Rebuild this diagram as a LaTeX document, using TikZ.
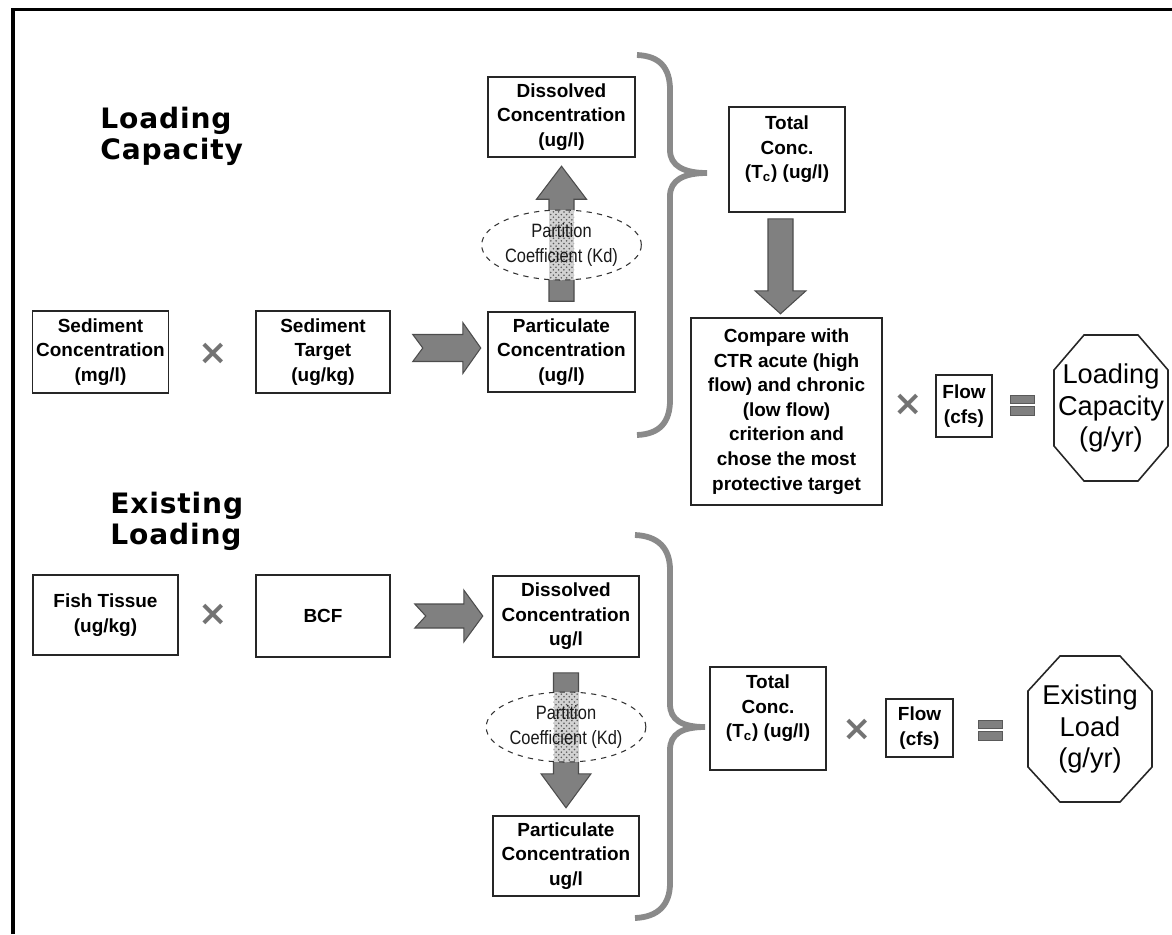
\documentclass[tikz,border=0pt]{standalone}
\usepackage{fontspec}
\setmainfont{Liberation Sans}
\newfontfamily\titlefont[LetterSpace=3]{DejaVu Sans}
\newfontfamily\narrowfont[FakeStretch=0.85]{Liberation Sans}
\usetikzlibrary{shapes.geometric,patterns,calc}

\definecolor{arrowgray}{HTML}{808080}
\definecolor{bracegray}{HTML}{8A8A8A}

\tikzset{
  box/.style={draw=black!85, line width=0.9pt, fill=white, align=center, inner sep=2pt,
    font=\fontsize{10.8}{14}\selectfont\bfseries},
  title/.style={anchor=west, align=left, inner sep=0pt,
    font=\titlefont\fontsize{16}{17.6}\selectfont\bfseries},
  timessign/.style={inner sep=0pt, text=black!55,
    font=\titlefont\fontsize{20}{20}\selectfont\bfseries},
  eqsign/.style={minimum width=0.52cm, minimum height=0.44cm, inner sep=0pt,
    path picture={
      \filldraw[fill=arrowgray, draw=black!65, line width=0.5pt]
        ($(path picture bounding box.center)+(-12,-10)$) rectangle ($(path picture bounding box.center)+(12,-1.5)$)
        ($(path picture bounding box.center)+(-12,1.5)$) rectangle ($(path picture bounding box.center)+(12,10)$);
    }},
  kdellipse/.style={ellipse, draw=black!80, dashed, line width=0.6pt, fill=white,
    minimum width=3.12cm, minimum height=1.4cm, inner sep=0pt, align=center,
    text=black!90, font=\narrowfont\fontsize{11}{14.2}\selectfont,
    path picture={
      \fill[gray!35] ($(path picture bounding box.center)+(-12.5,-40)$) rectangle ($(path picture bounding box.center)+(12.5,40)$);
      \fill[pattern=crosshatch dots, pattern color=gray!70!black]
        ($(path picture bounding box.center)+(-12.5,-40)$) rectangle ($(path picture bounding box.center)+(12.5,40)$);
    }},
  blockarrow/.style={fill=arrowgray, draw=black!70, line width=0.6pt, line join=miter},
  bracket/.style={draw=bracegray, line width=3.3pt},
  octo/.style={draw=black!85, line width=0.9pt},
  octotext/.style={align=center, inner sep=0pt, font=\fontsize{15.5}{18}\selectfont}
}

\begin{document}
\begin{tikzpicture}[x=0.02cm,y=-0.02cm]
\useasboundingbox (0,0) rectangle (1172,934);

% frame
\draw[line width=2pt] (13,934) -- (13,9.5) -- (1172,9.5);

% titles
\node[title] (ttlcap) at (100,136.5) {Loading\\Capacity};
\node[title] (ttlexist) at (110,521.5) {Existing\\Loading};

% ---- Loading capacity ----
\node[box, minimum width=2.70cm, minimum height=1.64cm] (sedconc) at (100.5,352) {Sediment\\Concentration\\(mg/l)};
\node[timessign] (x1) at (213,354) {×};
\node[box, minimum width=2.68cm, minimum height=1.64cm] (sedtgt) at (323,352) {Sediment\\Target\\(ug/kg)};
\node[box, minimum width=2.94cm, minimum height=1.60cm] (partc1) at (561.5,352) {Particulate\\Concentration\\(ug/l)};
\node[box, minimum width=2.94cm, minimum height=1.60cm] (dissc1) at (561.5,117) {Dissolved\\Concentration\\(ug/l)};

% target -> particulate
\draw[blockarrow] ($(sedtgt.east)+(32,-4)$) -- ++(-10,-13.5) -- ++(50,0) -- ++(0,-12)
  -- ++(18,25.5) -- ++(-18,25.5) -- ++(0,-12) -- ++(-50,0) -- cycle;

% particulate -> dissolved
\draw[blockarrow] ($(partc1.north)+(-12.5,-10)$) -- ++(0,-102) -- ++(-12.5,0) -- ++(25,-33)
  -- ++(25,33) -- ++(-12.5,0) -- ++(0,102) -- cycle;
\node[kdellipse] (kd1) at (561.5,245) {Partition\\Coefficient (Kd)};

% brace
\draw[bracket] (637,55) .. controls (660,56) and (670,68) .. (670,90) -- (670,150)
  .. controls (670,166) and (684,173) .. (707,173)
  .. controls (684,173) and (670,180) .. (670,196) -- (670,400)
  .. controls (670,422) and (660,434) .. (637,435);

\node[box, minimum width=2.32cm, minimum height=2.10cm] (totc1) at (787,159.5) {Total\\Conc.\\(T\textsubscript{c}) (ug/l)\\\mbox{}};
\node[box, minimum width=3.82cm, minimum height=3.74cm] (compare) at (786.5,411.5)
  {Compare with\\CTR acute (high\\flow) and chronic\\(low flow)\\criterion and\\chose the most\\protective target};

% total -> compare
\draw[blockarrow] ($(totc1.south)+(-19,6)$) -- ++(0,72) -- ++(-13,0) -- ++(25.5,23)
  -- ++(25.5,-23) -- ++(-13,0) -- ++(0,-72) -- cycle;

\node[timessign] (x2) at (908,405) {×};
\node[box, minimum width=1.12cm, minimum height=1.24cm] (flow1) at (964,406) {Flow\\(cfs)};
\node[eqsign] (eq1) at (1022,405) {};
\node[octotext] (lcap) at (1111,408) {Loading\\Capacity\\(g/yr)};
\draw[octo] ($(lcap)+(-27,-73)$) -- ++(54,0) -- ++(30,35) -- ++(0,76) -- ++(-30,35)
  -- ++(-54,0) -- ++(-30,-35) -- ++(0,-76) -- cycle;

% ---- Existing loading ----
\node[box, minimum width=2.90cm, minimum height=1.60cm] (fish) at (105.5,615) {Fish Tissue\\(ug/kg)};
\node[timessign] (x3) at (213,615) {×};
\node[box, minimum width=2.68cm, minimum height=1.64cm] (bcf) at (323,616) {BCF};
\node[box, minimum width=2.92cm, minimum height=1.62cm] (dissc2) at (566,616.5) {Dissolved\\Concentration\\ug/l};
\node[box, minimum width=2.92cm, minimum height=1.60cm] (partc2) at (566,856) {Particulate\\Concentration\\ug/l};

% bcf -> dissolved
\draw[blockarrow] ($(bcf.east)+(35,0)$) -- ++(-11,-12) -- ++(49,0) -- ++(0,-14)
  -- ++(19,26) -- ++(-19,26) -- ++(0,-14) -- ++(-49,0) -- cycle;

% dissolved -> particulate
\draw[blockarrow] ($(dissc2.south)+(-12.5,15)$) -- ++(0,101) -- ++(-12.5,0) -- ++(25,34)
  -- ++(25,-34) -- ++(-12.5,0) -- ++(0,-101) -- cycle;
\node[kdellipse] (kd2) at (566,727) {Partition\\Coefficient (Kd)};

% brace
\draw[bracket] (635,535) .. controls (658,536) and (670,548) .. (670,570) -- (670,704)
  .. controls (670,720) and (682,727) .. (705,727)
  .. controls (682,727) and (670,734) .. (670,750) -- (670,883)
  .. controls (670,905) and (658,917) .. (635,918);

\node[box, minimum width=2.32cm, minimum height=2.06cm] (totc2) at (768,718.5) {Total\\Conc.\\(T\textsubscript{c}) (ug/l)\\\mbox{}};
\node[timessign] (x4) at (857,730) {×};
\node[box, minimum width=1.34cm, minimum height=1.16cm] (flow2) at (919.5,728) {Flow\\(cfs)};
\node[eqsign] (eq2) at (990,730) {};
\node[octotext] (eload) at (1090,729) {Existing\\Load\\(g/yr)};
\draw[octo] ($(eload)+(-30,-73)$) -- ++(60,0) -- ++(32,35) -- ++(0,76) -- ++(-32,35)
  -- ++(-60,0) -- ++(-32,-35) -- ++(0,-76) -- cycle;

\end{tikzpicture}
\end{document}
